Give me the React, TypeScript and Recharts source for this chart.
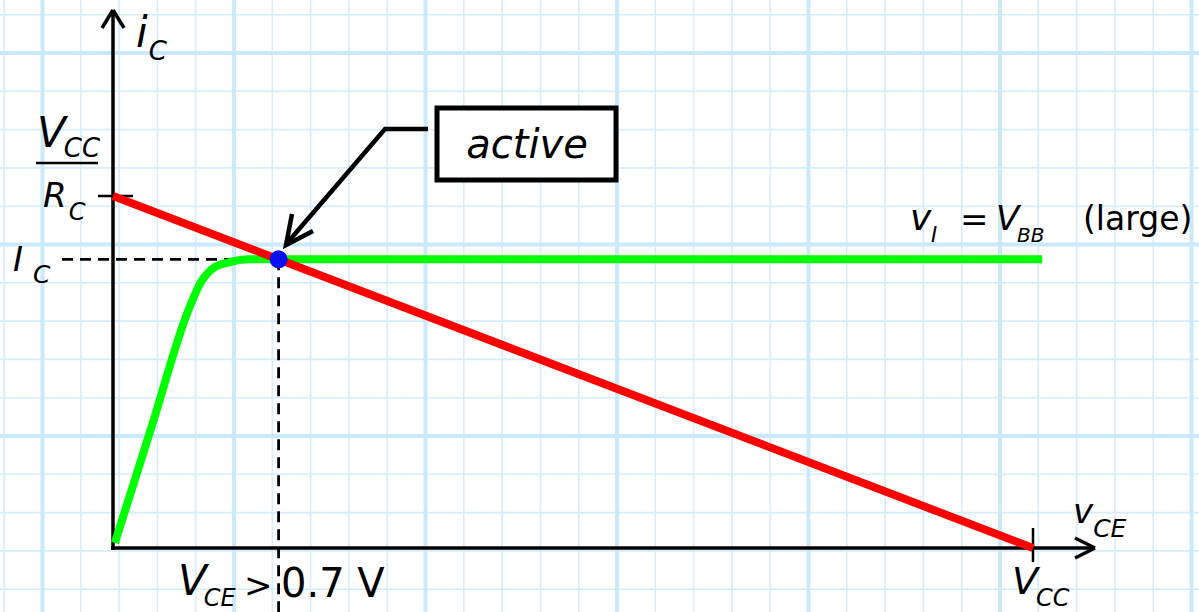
import React from 'react'
import {
  ComposedChart, Line, XAxis, YAxis, CartesianGrid, ReferenceLine, ReferenceDot, Customized,
} from 'recharts'

// Circuit values in normalised units: V_CC = 10, V_CC / R_C = 10
const VCC = 10
const VCC_OVER_RC = 10
const IC_Q = 8.2
const VCE_Q = 1.8

// load line i_C = (V_CC - v_CE) / R_C
const loadVce = [0, VCC]
const loadIc = [VCC_OVER_RC, 0]

// transistor output curve for v_I = V_BB (large)
const outVce = [0.02, 0.42, 0.82, 0.95, 1.09, 1.24, 1.49, 10.1]
const outIc = [0.14, 3.45, 6.76, 7.53, 7.95, 8.1, 8.2, 8.2]

const loadData = loadVce.map((v, k) => ({ v, i: loadIc[k] }))
const outData = outVce.map((v, k) => ({ v, i: outIc[k] }))

const W = 1199
const H = 612
// where the origin sits and how many px one unit takes
const ORIGIN_X = 113
const ORIGIN_Y = 548
const PX_V = 92
const PX_I = 35.2

const xDomain = [-ORIGIN_X / PX_V, (W - ORIGIN_X) / PX_V]
const yDomain = [-(H - ORIGIN_Y) / PX_I, ORIGIN_Y / PX_I]
const dv = (px: number) => px / PX_V
const di = (px: number) => px / PX_I

function gridPoints(start: number, step: number, max: number) {
  const pts: number[] = []
  let p = start
  while (p > 0) p -= step
  for (; p <= max; p += step) if (p >= 0) pts.push(p)
  return pts
}

const MINOR = 38.3
const MAJOR = MINOR * 5

const font = '"DejaVu Sans", sans-serif'
const ink = '#000'

function Labels() {
  const it = { fontFamily: font, fontStyle: 'italic' as const, fill: ink }
  return (
    <g>
      {/* i_C */}
      <text x={136} y={47} fontSize={42} {...it}>
        i<tspan fontSize={26} dy={13} dx={1}>C</tspan>
      </text>

      {/* V_CC / R_C */}
      <text x={37} y={147} fontSize={42} {...it}>
        V<tspan fontSize={26} dy={10} dx={-2}>CC</tspan>
      </text>
      <line x1={36} x2={98} y1={163} y2={163} stroke={ink} strokeWidth={2.5} />
      <text x={43} y={207} fontSize={34} {...it}>
        R<tspan fontSize={24} dy={13} dx={2}>C</tspan>
      </text>

      {/* I_C */}
      <text x={13} y={271} fontSize={34} {...it}>
        I<tspan fontSize={25} dy={12} dx={10}>C</tspan>
      </text>

      {/* v_I = V_BB (large) */}
      <text y={230} fontSize={36} {...it}>
        <tspan x={910}>v</tspan>
        <tspan x={931} y={242} fontSize={21}>I</tspan>
        <tspan x={960} y={231} fontSize={34} fontStyle="normal">=</tspan>
        <tspan x={996} y={230} fontSize={34}>V</tspan>
        <tspan x={1017} y={242} fontSize={20}>BB</tspan>
        <tspan x={1083} y={230} fontSize={33} fontStyle="normal">(large)</tspan>
      </text>

      {/* v_CE */}
      <text x={1073} y={523} fontSize={34} {...it}>
        v<tspan fontSize={25} dy={14} dx={0}>CE</tspan>
      </text>

      {/* V_CC on the v_CE axis */}
      <text x={1012} y={594} fontSize={38} {...it}>
        V<tspan fontSize={24} dy={12} dx={-2}>CC</tspan>
      </text>

      {/* V_CE > 0.7 V */}
      <text x={178} y={595} fontSize={42} {...it}>
        V<tspan fontSize={24} dy={11} dx={-3}>CE</tspan>
        <tspan x={244} y={597} fontSize={34} fontStyle="normal">&gt;</tspan>
        <tspan x={281} y={597} fontSize={40} fontStyle="normal">0.7 V</tspan>
      </text>

      {/* callout */}
      <rect x={437} y={108} width={179} height={72} fill="#fff" stroke={ink} strokeWidth={5} />
      <text x={527} y={158} fontSize={40} textAnchor="middle" {...it}>active</text>
      <polyline points="428,129 385,129 288,242" fill="none" stroke={ink} strokeWidth={4.5} />
      <polyline points="292,214 286,245 313,231" fill="none" stroke={ink} strokeWidth={4.5} />
    </g>
  )
}

export default function App() {
  return (
    <div style={{ position: 'absolute', left: 0, top: 0, width: W, height: H, background: '#fff' }}>
      <ComposedChart width={W} height={H} margin={{ top: 0, right: 0, bottom: 0, left: 0 }}>
        <XAxis type="number" dataKey="v" domain={xDomain} hide allowDataOverflow height={0} />
        <YAxis type="number" dataKey="i" domain={yDomain} hide allowDataOverflow width={0} />
        <CartesianGrid
          verticalPoints={gridPoints(42.5, MINOR, W)} horizontalPoints={gridPoints(53, MINOR, H)}
          stroke="#d5edfc" strokeWidth={1.6}
        />
        <CartesianGrid
          verticalPoints={gridPoints(42.5, MAJOR, W)} horizontalPoints={gridPoints(53, MAJOR, H)}
          stroke="#cbe9fc" strokeWidth={4}
        />

        {/* dashed projections of the Q point */}
        <ReferenceLine segment={[{ x: dv(-51), y: IC_Q }, { x: VCE_Q, y: IC_Q }]}
          stroke={ink} strokeWidth={2.8} strokeDasharray="11 7" ifOverflow="visible" />
        <ReferenceLine segment={[{ x: VCE_Q, y: IC_Q }, { x: VCE_Q, y: yDomain[0] }]}
          stroke={ink} strokeWidth={2.8} strokeDasharray="11 7" ifOverflow="visible" />

        {/* axes with open arrow heads */}
        <ReferenceLine segment={[{ x: 0, y: di(-2) }, { x: 0, y: di(538) }]} stroke={ink} strokeWidth={3.5} ifOverflow="visible" />
        <ReferenceLine segment={[{ x: dv(-11), y: di(520) }, { x: 0, y: di(538) }]} stroke={ink} strokeWidth={3.5} ifOverflow="visible" />
        <ReferenceLine segment={[{ x: dv(11), y: di(520) }, { x: 0, y: di(538) }]} stroke={ink} strokeWidth={3.5} ifOverflow="visible" />
        <ReferenceLine segment={[{ x: dv(-2), y: 0 }, { x: dv(982), y: 0 }]} stroke={ink} strokeWidth={3.5} ifOverflow="visible" />
        <ReferenceLine segment={[{ x: dv(962), y: di(10) }, { x: dv(982), y: 0 }]} stroke={ink} strokeWidth={3.5} ifOverflow="visible" />
        <ReferenceLine segment={[{ x: dv(962), y: di(-10) }, { x: dv(982), y: 0 }]} stroke={ink} strokeWidth={3.5} ifOverflow="visible" />

        {/* tick marks at V_CC/R_C and V_CC */}
        <ReferenceLine segment={[{ x: dv(-15), y: VCC_OVER_RC }, { x: dv(20), y: VCC_OVER_RC }]} stroke={ink} strokeWidth={2.5} ifOverflow="visible" />
        <ReferenceLine segment={[{ x: VCC, y: di(20) }, { x: VCC, y: di(-14) }]} stroke={ink} strokeWidth={2.5} ifOverflow="visible" />

        <Line data={outData} dataKey="i" type="monotone" stroke="#00ff00" strokeWidth={8}
          dot={false} activeDot={false} isAnimationActive={false} />
        <Line data={loadData} dataKey="i" type="linear" stroke="#ff0000" strokeWidth={8}
          dot={false} activeDot={false} isAnimationActive={false} />

        <ReferenceDot x={VCE_Q} y={IC_Q} r={9} fill="#0b10f0" stroke="none" ifOverflow="visible" />

        <Customized component={Labels} />
      </ComposedChart>
    </div>
  )
}
